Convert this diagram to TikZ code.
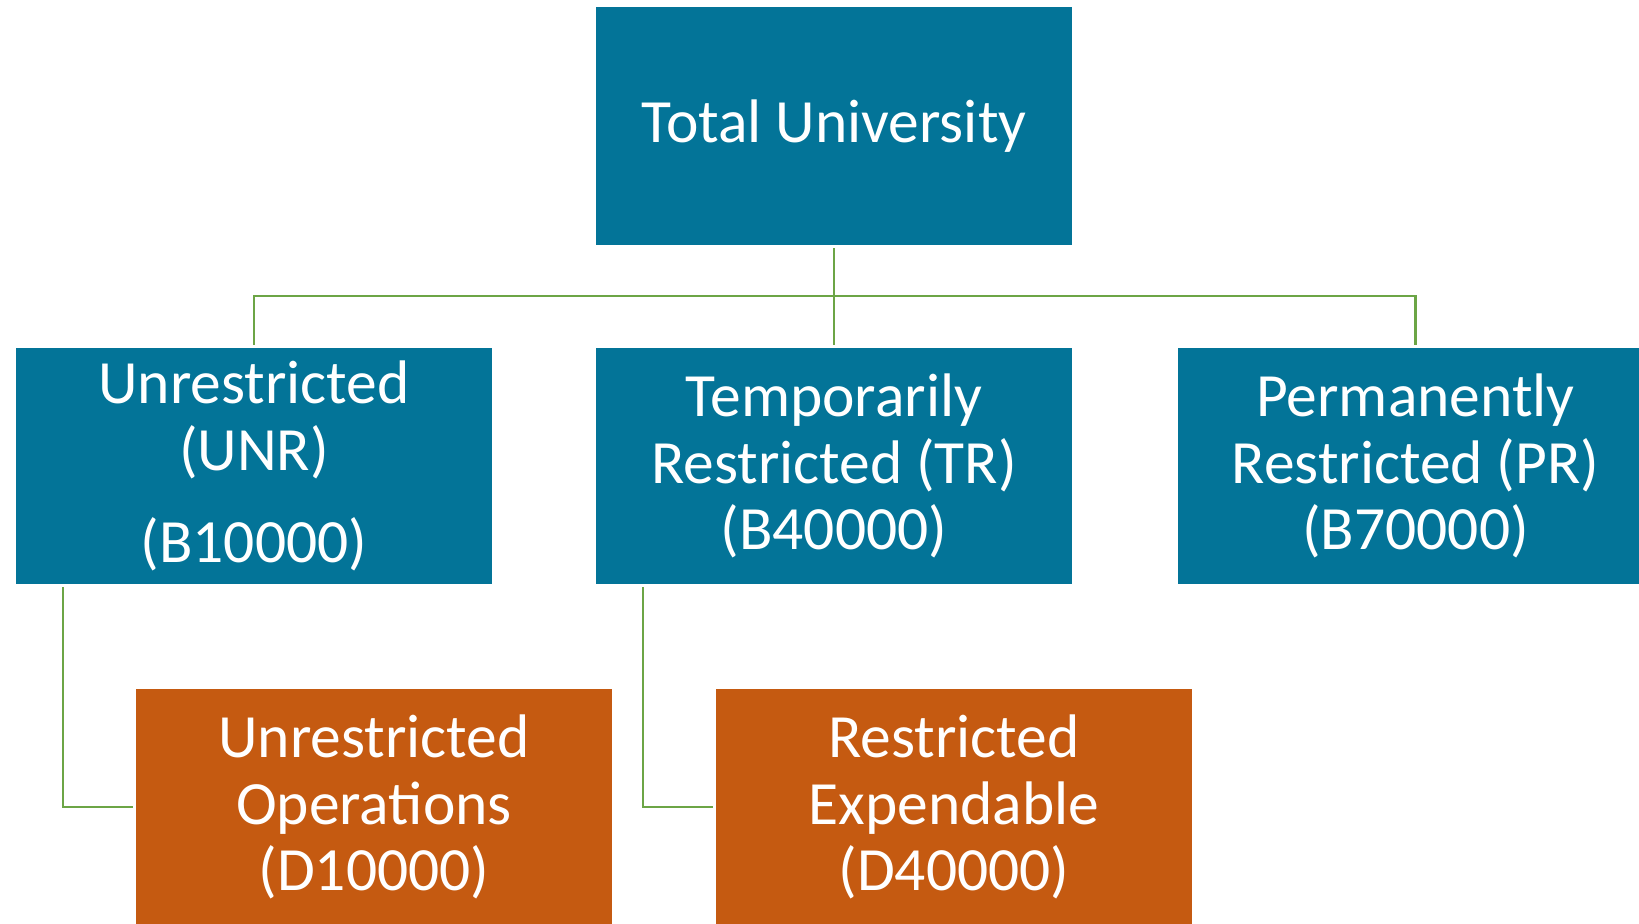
\documentclass[tikz,border=0pt]{standalone}
\usepackage{fontspec}
\setmainfont{Carlito}
\definecolor{tealblue}{RGB}{3,116,152}
\definecolor{burnt}{RGB}{197,90,17}
\definecolor{leafgreen}{RGB}{108,165,70}
\begin{document}
\begin{tikzpicture}[x=0.02cm,y=-0.02cm,
    box/.style={rectangle,minimum width=9.52cm,minimum height=4.72cm,
      inner sep=0pt,align=center,text=white,
      font=\fontsize{35}{38}\selectfont},
    blubox/.style={box,fill=tealblue},
    orgbox/.style={box,fill=burnt},
    link/.style={draw=leafgreen,line width=1.3pt,shorten <=0.06cm,shorten >=0.06cm}]
      \useasboundingbox (0,0) rectangle (1639,923);
      \clip (0,0) rectangle (1639,923);
      \node[blubox,minimum height=4.76cm] (total) at (834,126) {Total University};
      \node[blubox] (unr) at (254,466) {Unrestricted\\(UNR)\\[0.52cm](B10000)};
      \node[blubox] (tr) at (834,466) {Temporarily\\Restricted (TR)\\(B40000)};
      \node[blubox] (pr) at (1415.5,466) {Permanently\\Restricted (PR)\\(B70000)};
      \node[orgbox] (unrops) at (374,807) {Unrestricted\\Operations\\(D10000)};
      \node[orgbox] (rexp) at (954,807) {Restricted\\Expendable\\(D40000)};
      \coordinate (bus) at (834,296);
      \begin{scope}[link]
        \draw (total) -- (tr);
        \draw (unr.north) |- (bus) -| (pr.north);
        \draw ([xshift=0.94cm]unr.south west) |- (unrops.west);
        \draw ([xshift=0.94cm]tr.south west) |- (rexp.west);
      \end{scope}
    \end{tikzpicture}
\end{document}
